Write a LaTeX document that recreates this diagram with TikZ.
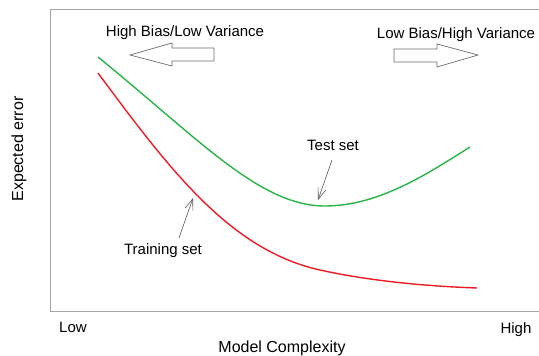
\documentclass[tikz,border=0pt]{standalone}
\usepackage{fontspec}
\setmainfont{Liberation Sans}
\usetikzlibrary{arrows.meta}
\definecolor{gcurve}{RGB}{40,180,70}
\definecolor{rcurve}{RGB}{237,28,36}
\definecolor{framec}{RGB}{165,165,165}
\definecolor{outl}{RGB}{110,110,110}
\begin{document}
\begin{tikzpicture}[x=1pt,y=-1pt,
  lbl/.style={inner sep=0pt,font=\fontsize{15}{17}\selectfont},
  biglbl/.style={inner sep=0pt,font=\fontsize{16}{18}\selectfont},
  curve/.style={line width=1.4pt,line join=round},
  hollow/.style={draw=outl,line width=0.7pt,fill=white},
  ann/.style={draw=outl!80!black,line width=0.6pt,-{Straight Barb[length=11pt,width=8pt]}}]
\useasboundingbox (0,0) rectangle (539,356);
\draw[framec,line width=1pt] (539,9) -- (50,9) -- (50,311) -- (539,311);
% curves
\draw[curve,gcurve] (98,57) .. controls (200,140) and (260,206) .. (325,206)
                            .. controls (380,206) and (430,172) .. (470,147);
\draw[curve,rcurve] (98,73) .. controls (170,170) and (230,250) .. (320,270)
                            .. controls (365,280) and (420,286) .. (477,288);
% hollow arrows
\draw[hollow] (130,55) -- (172,43) -- (172,48) -- (214,48) -- (214,61) -- (172,61) -- (172,66) -- cycle;
\draw[hollow] (478,55) -- (437,44) -- (437,49) -- (394,49) -- (394,62) -- (437,62) -- (437,67) -- cycle;
% labels
\node[lbl,anchor=base] (hb) at (185,37) {High Bias/Low Variance};
\node[lbl,anchor=base] (lb) at (456,38) {Low Bias/High Variance};
\node[lbl,anchor=base] (ts) at (333,150) {Test set};
\node[lbl,anchor=base] (tr) at (163,254) {Training set};
\node[lbl,anchor=base] (lo) at (73,332) {Low};
\node[lbl,anchor=base] (hi) at (516,333) {High};
\node[biglbl,anchor=base] (mc) at (282,352) {Model Complexity};
\node[biglbl,rotate=90] (ee) at (19,149) {Expected error};
% annotation arrows
\coordinate (ta) at (332,160);
\coordinate (tb) at (318,200);
\coordinate (ra) at (179,238);
\coordinate (rb) at (193,198);
\draw[ann] (ta) -- (tb);
\draw[ann] (ra) -- (rb);
\end{tikzpicture}
\end{document}
